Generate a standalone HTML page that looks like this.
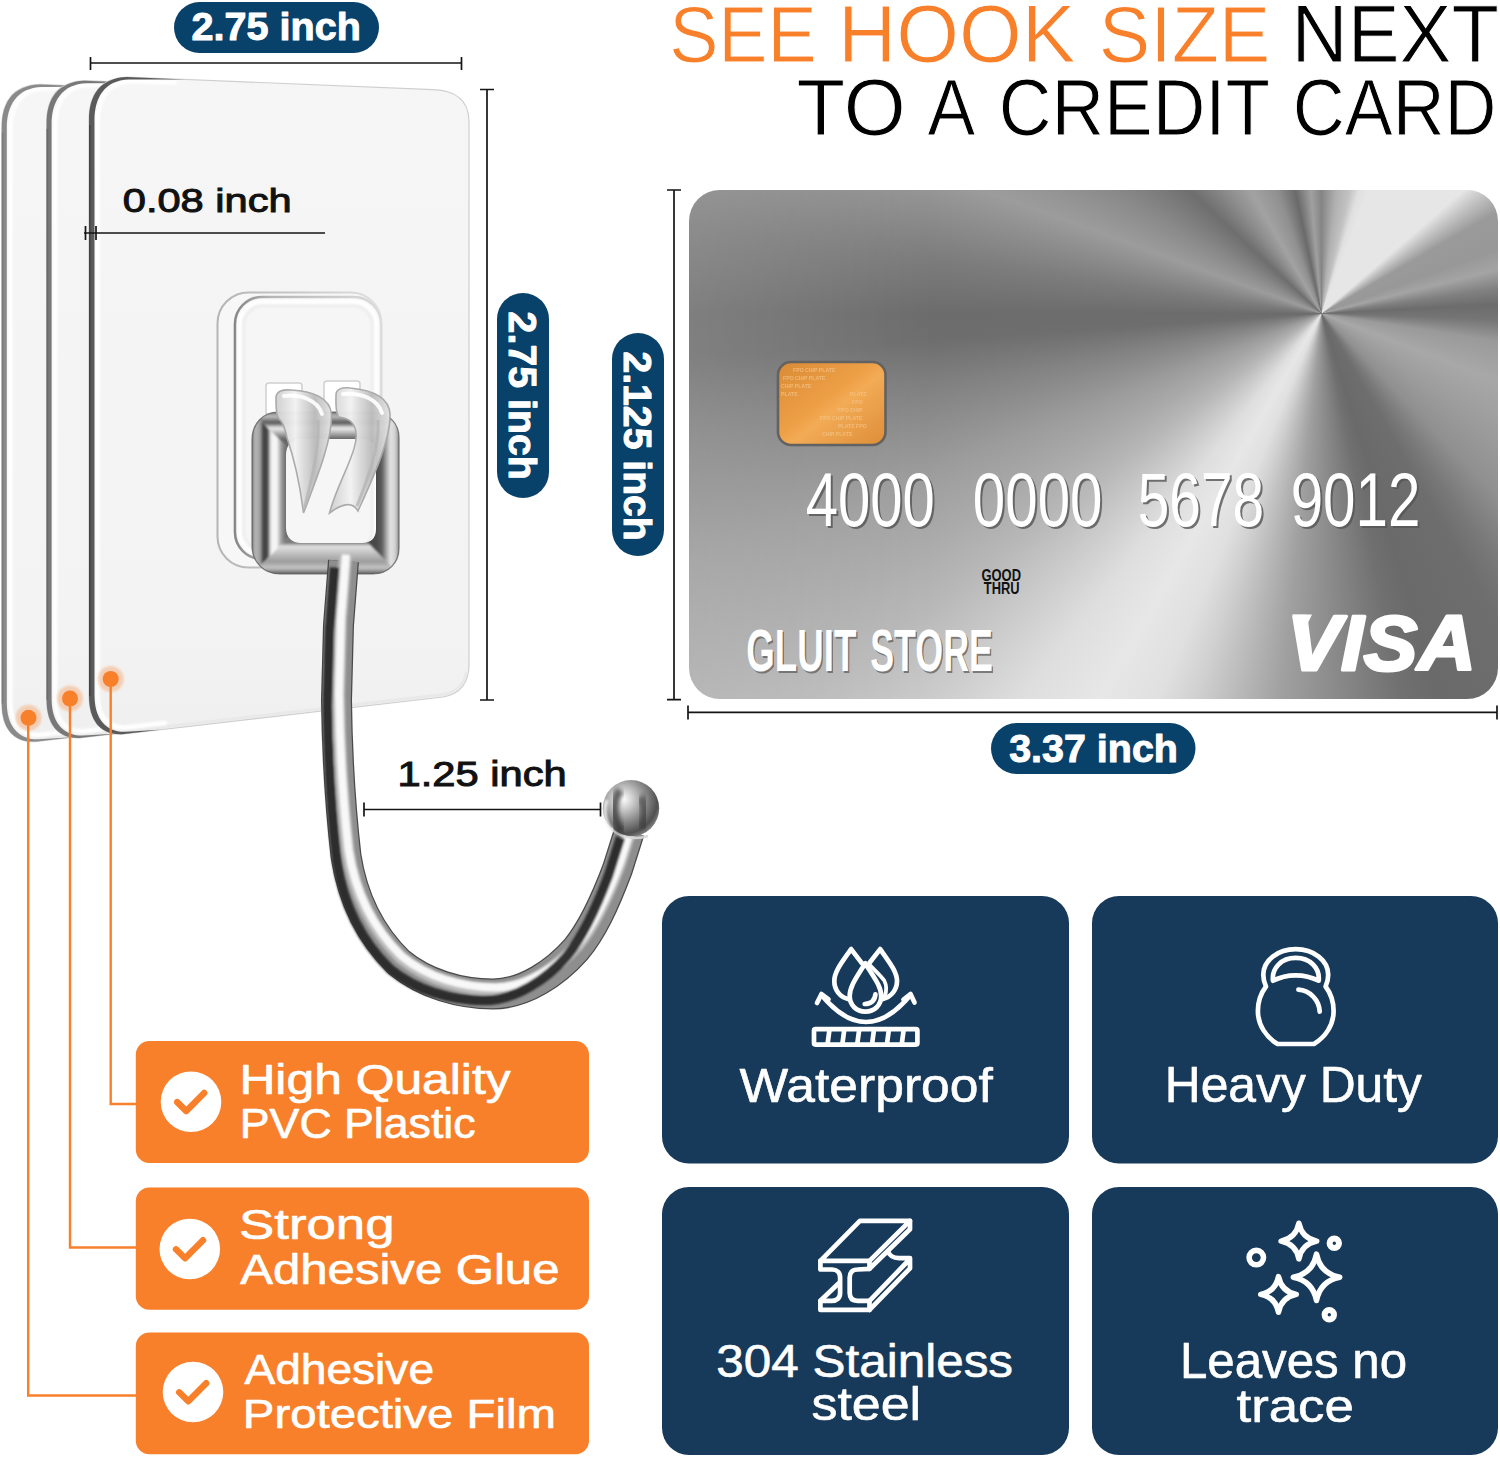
<!DOCTYPE html>
<html lang="en">
<head>
<meta charset="utf-8">
<title>See hook size next to a credit card</title>
<style>
html,body{margin:0;padding:0;background:#fff;}
body{width:1500px;height:1458px;position:relative;overflow:hidden;font-family:"Liberation Sans",sans-serif;}
#card{position:absolute;left:689px;top:190px;width:809px;height:509.4px;border-radius:31px;
background:linear-gradient(90deg, rgba(255,255,255,0.13) 0%, rgba(255,255,255,0) 30%), conic-gradient(from 0deg at 632.5px 123.5px, #858585 0deg, #b0b0b0 7deg, #c2c2c2 13deg, #e0e0e0 17deg, #e6e6e6 21deg, #e6e6e6 49deg, #c2c2c2 54deg, #9a9a9a 60deg, #989898 70deg, #a4a4a4 76deg, #808080 82deg, #6c6c6c 87deg, #757575 92deg, #9a9a9a 99deg, #a8a8a8 111deg, #9c9c9c 125deg, #909090 136deg, #787878 145deg, #6e6e6e 150deg, #6a6a6a 163deg, #707070 168deg, #808080 174deg, #909090 180deg, #a0a0a0 186deg, #b8b8b8 192deg, #d0d0d0 198deg, #e0e0e0 203deg, #e7e7e7 210deg, #dedede 218deg, #cacaca 226deg, #b8b8b8 233deg, #acacac 239deg, #9c9c9c 248deg, #828282 259deg, #6e6e6e 266deg, #6c6c6c 270deg, #7c7c7c 278deg, #9c9c9c 290deg, #8a8a8a 300deg, #6e6e6e 313deg, #8c8c8c 322deg, #a2a2a2 330deg, #909090 340deg, #6a6a6a 348deg, #a0a0a0 355deg, #858585 360deg);}
svg{position:absolute;left:0;top:0;}
text{font-family:"Liberation Sans",sans-serif;}
.b{font-weight:bold;}
</style>
</head>
<body>
<div id="card"></div>
<svg width="1500" height="1458" viewBox="0 0 1500 1458">
<defs>
<linearGradient id="gSheet" x1="0" y1="0" x2="0" y2="1">
<stop offset="0" stop-color="#f6f6f6"/><stop offset="0.5" stop-color="#f4f4f4"/><stop offset="0.86" stop-color="#f3f3f3"/><stop offset="1" stop-color="#efefef"/>
</linearGradient>
<radialGradient id="gBall" cx="0.36" cy="0.34" r="0.72">
<stop offset="0" stop-color="#ffffff"/><stop offset="0.22" stop-color="#d2d2d2"/><stop offset="0.55" stop-color="#8c8c8c"/><stop offset="0.85" stop-color="#505050"/><stop offset="1" stop-color="#858585"/>
</radialGradient>
<linearGradient id="gClip" x1="0" y1="0" x2="1" y2="0">
<stop offset="0" stop-color="#cfcfcf"/><stop offset="0.35" stop-color="#f2f2f2"/><stop offset="0.7" stop-color="#bdbdbd"/><stop offset="1" stop-color="#e4e4e4"/>
</linearGradient>
<linearGradient id="gLL" gradientUnits="userSpaceOnUse" x1="252" y1="0" x2="286" y2="0"><stop offset="0" stop-color="#6a6a6a"/><stop offset="0.08" stop-color="#b8b8b8"/><stop offset="0.24" stop-color="#a0a0a0"/><stop offset="0.33" stop-color="#404040"/><stop offset="0.46" stop-color="#4a4a4a"/><stop offset="0.56" stop-color="#f0f0f0"/><stop offset="0.72" stop-color="#f8f8f8"/><stop offset="0.86" stop-color="#a0a0a0"/><stop offset="1" stop-color="#6a6a6a"/></linearGradient>
<linearGradient id="gLB" gradientUnits="userSpaceOnUse" x1="0" y1="543" x2="0" y2="574"><stop offset="0" stop-color="#7a7a7a"/><stop offset="0.1" stop-color="#e2e2e2"/><stop offset="0.35" stop-color="#bfbfbf"/><stop offset="0.6" stop-color="#9c9c9c"/><stop offset="0.8" stop-color="#c4c4c4"/><stop offset="0.92" stop-color="#8a8a8a"/><stop offset="1" stop-color="#555"/></linearGradient>
<linearGradient id="gLR" gradientUnits="userSpaceOnUse" x1="376" y1="0" x2="399" y2="0"><stop offset="0" stop-color="#4a4a4a"/><stop offset="0.25" stop-color="#5a5a5a"/><stop offset="0.42" stop-color="#9a9a9a"/><stop offset="0.62" stop-color="#e4e4e4"/><stop offset="0.85" stop-color="#cfcfcf"/><stop offset="1" stop-color="#858585"/></linearGradient>
<linearGradient id="gLT" gradientUnits="userSpaceOnUse" x1="0" y1="412" x2="0" y2="439"><stop offset="0" stop-color="#666"/><stop offset="0.15" stop-color="#c2c2c2"/><stop offset="0.4" stop-color="#555"/><stop offset="0.6" stop-color="#eee"/><stop offset="0.85" stop-color="#999"/><stop offset="1" stop-color="#666"/></linearGradient>
<filter id="bj" filterUnits="userSpaceOnUse" x="280" y="520" width="420" height="520"><feGaussianBlur stdDeviation="0.8"/></filter>
<filter id="b1" x="-20%" y="-20%" width="140%" height="140%"><feGaussianBlur stdDeviation="1"/></filter>
<filter id="b2" x="-20%" y="-20%" width="140%" height="140%"><feGaussianBlur stdDeviation="2.2"/></filter>
</defs>
<!--TITLE-->
<g id="title">
<text x="669.15" y="62.1" font-size="80" textLength="147.58" lengthAdjust="spacingAndGlyphs" fill="#f9802b" stroke="#fff" stroke-width="1">SEE</text>
<text x="838.05" y="62.1" font-size="81.14" textLength="237.52" lengthAdjust="spacingAndGlyphs" fill="#f9802b" stroke="#fff" stroke-width="1">HOOK</text>
<text x="1098.81" y="62.1" font-size="80" textLength="171.54" lengthAdjust="spacingAndGlyphs" fill="#f9802b" stroke="#fff" stroke-width="1">SIZE</text>
<text x="1291.58" y="62.1" font-size="81.16" textLength="207.34" lengthAdjust="spacingAndGlyphs" fill="#000" stroke="#fff" stroke-width="1">NEXT</text>
<text x="796.51" y="135.4" font-size="80.43" textLength="109.2" lengthAdjust="spacingAndGlyphs" fill="#000" stroke="#fff" stroke-width="1">TO</text>
<text x="927.5" y="135.4" font-size="80.43" textLength="47.78" lengthAdjust="spacingAndGlyphs" fill="#000" stroke="#fff" stroke-width="1">A</text>
<text x="998.86" y="135.4" font-size="80.43" textLength="271.16" lengthAdjust="spacingAndGlyphs" fill="#000" stroke="#fff" stroke-width="1">CREDIT</text>
<text x="1292.81" y="135.4" font-size="80.43" textLength="203.73" lengthAdjust="spacingAndGlyphs" fill="#000" stroke="#fff" stroke-width="1">CARD</text>
</g>
<!--SHEETS-->
<g id="sheets">
<path d="M1.8 127.4C1.8 102.4 12.8 85.4 39.8 84.4L345.8 97.1C367.8 98.0 381.3 106.4 381.8 128.4L381.8 671.4C381.8 690.4 372.8 701.4 355.8 704.4L36.8 741.4C13.8 743.4 1.8 728.4 1.8 703.4Z" fill="url(#gSheet)" stroke="#cfcfcf" stroke-width="1.2"/>
<path d="M36.8 738.9L355.8 701.9C368.8 699.9 376.8 693.4 379.3 679.4" fill="none" stroke="#e9e9e9" stroke-width="3"/>
<path d="M87.8 89.9L43.8 88.4C20.8 89.4 10.3 105.4 10.3 129.4L10.3 701.4C10.3 722.4 18.8 735.9 38.8 734.9L77.8 730.4" fill="none" stroke="#fff" stroke-width="4.5" stroke-linecap="round" filter="url(#b1)"/>
<path d="M97.8 86.8L39.8 84.4C12.8 85.4 1.8 102.4 1.8 127.4L1.8 703.4C1.8 728.4 13.8 743.4 36.8 741.4L72.8 737.2L38.8 739.2C17.8 739.9 6.8 725.4 6.8 702.4L6.8 128.4C6.8 105.4 16.8 87.9 41.8 87.0Z" fill="#8a8a8a"/>
<path d="M2.6 132.4V703.4" stroke="#7c7c7c" stroke-width="1.6" fill="none"/>
<path d="M46.6 123.7C46.6 98.7 57.6 81.7 84.6 80.7L390.6 93.4C412.6 94.3 426.1 102.7 426.6 124.7L426.6 667.7C426.6 686.7 417.6 697.7 400.6 700.7L81.6 737.7C58.6 739.7 46.6 724.7 46.6 699.7Z" fill="url(#gSheet)" stroke="#cfcfcf" stroke-width="1.2"/>
<path d="M81.6 735.2L400.6 698.2C413.6 696.2 421.6 689.7 424.1 675.7" fill="none" stroke="#e9e9e9" stroke-width="3"/>
<path d="M132.6 86.2L88.6 84.7C65.6 85.7 55.1 101.7 55.1 125.7L55.1 697.7C55.1 718.7 63.6 732.2 83.6 731.2L122.6 726.7" fill="none" stroke="#fff" stroke-width="4.5" stroke-linecap="round" filter="url(#b1)"/>
<path d="M142.6 83.1L84.6 80.7C57.6 81.7 46.6 98.7 46.6 123.7L46.6 699.7C46.6 724.7 58.6 739.7 81.6 737.7L117.6 733.5L83.6 735.5C62.6 736.2 51.6 721.7 51.6 698.7L51.6 124.7C51.6 101.7 61.6 84.2 86.6 83.3Z" fill="#787878"/>
<path d="M47.4 128.7V699.7" stroke="#6a6a6a" stroke-width="1.6" fill="none"/>
<path d="M89.0 120.0C89.0 95.0 100.0 78.0 127.0 77.0L433.0 89.7C455.0 90.6 468.5 99.0 469.0 121.0L469.0 664.0C469.0 683.0 460.0 694.0 443.0 697.0L124.0 734.0C101.0 736.0 89.0 721.0 89.0 696.0Z" fill="url(#gSheet)" stroke="#cfcfcf" stroke-width="1.2"/>
<path d="M124.0 731.5L443.0 694.5C456.0 692.5 464.0 686.0 466.5 672.0" fill="none" stroke="#e9e9e9" stroke-width="3"/>
<path d="M175.0 82.5L131.0 81.0C108.0 82.0 97.5 98.0 97.5 122.0L97.5 694.0C97.5 715.0 106.0 728.5 126.0 727.5L165.0 723.0" fill="none" stroke="#fff" stroke-width="4.5" stroke-linecap="round" filter="url(#b1)"/>
<path d="M185.0 79.4L127.0 77.0C100.0 78.0 89.0 95.0 89.0 120.0L89.0 696.0C89.0 721.0 101.0 736.0 124.0 734.0L160.0 729.8L126.0 731.8C105.0 732.5 94.5 718.0 94.5 695.0L94.5 121.0C94.5 98.0 104.0 80.5 129.0 79.6Z" fill="#5a5a5a"/>
<path d="M89.8 125.0V696.0" stroke="#444" stroke-width="1.6" fill="none"/>
</g>
<!--HOOK-->
<g id="hook">
<linearGradient id="gPadO" gradientUnits="userSpaceOnUse" x1="216" y1="0" x2="382" y2="0"><stop offset="0" stop-color="#b4b4b4"/><stop offset="0.5" stop-color="#c8c8c8"/><stop offset="1" stop-color="#e2e2e2"/></linearGradient>
<linearGradient id="gPadI" gradientUnits="userSpaceOnUse" x1="234" y1="0" x2="382" y2="0"><stop offset="0" stop-color="#858585"/><stop offset="0.25" stop-color="#b4b4b4"/><stop offset="1" stop-color="#dcdcdc"/></linearGradient>
<rect x="217.5" y="292.5" width="164" height="275" rx="31" fill="#f7f7f7" stroke="url(#gPadO)" stroke-width="2"/>
<path d="M224 330V535" stroke="#dedede" stroke-width="8" filter="url(#b2)"/>
<rect x="235" y="297" width="146" height="262" rx="27" fill="#f6f6f6" stroke="url(#gPadI)" stroke-width="2.6"/>
<rect x="239.5" y="301.5" width="137" height="253" rx="23" fill="none" stroke="#ffffff" stroke-width="4" filter="url(#b1)"/>
<rect x="244" y="306" width="128" height="244" rx="19" fill="none" stroke="#ebebeb" stroke-width="2" filter="url(#b1)"/>
<rect x="266" y="383" width="36" height="32" rx="3" fill="#fff" stroke="#cfcfcf" stroke-width="1.5"/>
<rect x="324" y="381" width="36" height="32" rx="3" fill="#fff" stroke="#cfcfcf" stroke-width="1.5"/>
<clipPath id="cpLoop"><path d="M278 412H373C388 412 399 423 399 438V548C399 563 388 574 373 574H280C263 574 252 561 252 546V440C252 424 263 412 278 412ZM302 439C292 439 286 445 286 455V528C286 537 292 543 301 543H362C371 543 376 538 376 529V453C376 444 371 439 362 439Z" clip-rule="evenodd"/></clipPath>
<g clip-path="url(#cpLoop)"><g filter="url(#b1)">
<path d="M230 390L320 480V506L230 596Z" fill="url(#gLL)"/>
<path d="M230 596H421L342 517L320 506Z" fill="url(#gLB)"/>
<path d="M421 390L342 469V517L421 596Z" fill="url(#gLR)"/>
<path d="M230 390H421L342 469L320 480Z" fill="url(#gLT)"/>
</g></g>
<path d="M278 412H373C388 412 399 423 399 438V548C399 563 388 574 373 574H280C263 574 252 561 252 546V440C252 424 263 412 278 412Z" fill="none" stroke="#5c5c5c" stroke-width="1.2" opacity="0.8"/>
<path d="M343.5 561L338.5 625L336.5 700C337 740 338.5 790 346 856C352 895 368 932 399 962.5C425 984 460 994 493 994C525 994 556 972 576 949.5C592 930 604 905 617.5 869L629.5 831" fill="none" stroke="#4a4a4a" stroke-width="31" stroke-linecap="butt" stroke-linejoin="round"/>
<path d="M343.5 561L338.5 625L336.5 700C337 740 338.5 790 346 856C352 895 368 932 399 962.5C425 984 460 994 493 994C525 994 556 972 576 949.5C592 930 604 905 617.5 869L629.5 831" fill="none" stroke="#8e8e8e" stroke-width="28.5" stroke-linecap="butt" stroke-linejoin="round"/>
<g filter="url(#bj)"><path d="M343.5 561L338.5 625L336.5 700C337 740 338.5 790 346 856C352 895 368 932 399 962.5C425 984 460 994 493 994C525 994 556 972 576 949.5C592 930 604 905 617.5 869L629.5 831" fill="none" stroke="#bcbcbc" stroke-width="13" stroke-linecap="butt" stroke-linejoin="round" transform="translate(2 -5)"/>
<path d="M343.5 561L338.5 625L336.5 700C337 740 338.5 790 346 856C352 895 368 932 399 962.5C425 984 460 994 493 994C525 994 556 972 576 949.5C592 930 604 905 617.5 869L629.5 831" fill="none" stroke="#f8f8f8" stroke-width="8" stroke-linecap="butt" stroke-linejoin="round" transform="translate(2.5 -6.5)"/>
<path d="M343.5 561L338.5 625L336.5 700C337 740 338.5 790 346 856C352 895 368 932 399 962.5C425 984 460 994 493 994C525 994 556 972 576 949.5C592 930 604 905 617.5 869L629.5 831" fill="none" stroke="#262626" stroke-width="9.5" stroke-linecap="butt" stroke-linejoin="round" transform="translate(-9 6.5)" opacity="0.95"/></g>

<circle cx="631" cy="808.3" r="28.2" fill="url(#gBall)"/>
<path d="M611 828C617 836 634 841 648 836" stroke="#d8d8d8" stroke-width="2.5" fill="none" opacity="0.9"/>
<path d="M620 790C612 802 613 820 622 832" stroke="#2a2a2a" stroke-width="8" fill="none" opacity="0.7" filter="url(#b2)"/>
<path d="M640 797C646 806 646 818 641 828" stroke="#303030" stroke-width="9" fill="none" opacity="0.55" filter="url(#b2)"/>
<path d="M607 800C603 810 605 822 612 830" stroke="#f2f2f2" stroke-width="3.5" fill="none" opacity="0.85" filter="url(#b1)"/>
<path d="M276 398C276 391 282 389.5 291 390C313 391 330 398 331.5 414C332.5 440 316 480 303.5 513C300 485 293 455 287 438C285 428 283 422 279 419C275.5 415 276 405 276 398Z" fill="url(#gClip)" stroke="#a9a9a9" stroke-width="1.6" opacity="0.97"/>
<path d="M336 395C336 389 342 387 350 388C372 390 389 397 390 414C391 440 372 480 358 511C352 500 340 505 329.5 513C338 480 362 446 355 428C352 420 346 418 339 417C335 413 336 403 336 395Z" fill="url(#gClip)" stroke="#a9a9a9" stroke-width="1.6" opacity="0.97"/>
<path d="M284 396C300 394 318 400 322 414" stroke="#fff" stroke-width="4" fill="none" stroke-linecap="round" opacity="0.9"/>
<path d="M343 394C360 392 378 399 382 413" stroke="#fff" stroke-width="4" fill="none" stroke-linecap="round" opacity="0.9"/>
<path d="M318 420C320 450 310 485 304.5 508" stroke="#b5b5b5" stroke-width="3" fill="none" opacity="0.8"/>
<path d="M378 420C380 450 365 485 357 506" stroke="#b5b5b5" stroke-width="3" fill="none" opacity="0.8"/>
</g>
<!--DIMS-->
<g id="dims">
<g stroke="#151515" stroke-width="1.7" fill="none">
<path d="M90.5 63H461.5M90.5 57V70M461.5 57V70"/>
<path d="M487 89.5V700M480 89.5H494M480 700H494"/>
<path d="M84 233H325M85.5 226V240M96 226V240"/>
<path d="M364 809.5H600.5M364 802.5V816.5M600.5 802.5V816.5"/>
<path d="M674 190V699.6M667 190H681M667 699.6H681"/>
<path d="M688 712.4H1497M688 705.4V719.4M1497 705.4V719.4"/>
</g>
<rect x="174" y="2" width="205" height="51" rx="25.5" fill="#08426a"/>
<text x="191.61" y="40" font-size="38.36" font-weight="bold" textLength="169.19" lengthAdjust="spacingAndGlyphs" fill="#fff" stroke="#fff" stroke-width="1" stroke-linejoin="round">2.75 inch</text>
<rect x="991" y="723" width="204.5" height="51" rx="25.5" fill="#08426a"/>
<text x="1009.21" y="762.2" font-size="38.77" font-weight="bold" textLength="168.69" lengthAdjust="spacingAndGlyphs" fill="#fff" stroke="#fff" stroke-width="1" stroke-linejoin="round">3.37 inch</text>
<rect x="497" y="293" width="52" height="205" rx="26" fill="#08426a"/>
<text x="311.62" y="0" font-size="39.04" font-weight="bold" textLength="168.17" lengthAdjust="spacingAndGlyphs" fill="#fff" stroke="#fff" stroke-width="1" stroke-linejoin="round" transform="translate(509 0) rotate(90)">2.75 inch</text>
<rect x="612" y="333" width="52" height="223" rx="26" fill="#08426a"/>
<text x="351.43" y="0" font-size="39.04" font-weight="bold" textLength="189.36" lengthAdjust="spacingAndGlyphs" fill="#fff" stroke="#fff" stroke-width="1" stroke-linejoin="round" transform="translate(624 0) rotate(90)">2.125 inch</text>
<text x="122.75" y="212.3" font-size="33.84" textLength="168.88" lengthAdjust="spacingAndGlyphs" fill="#111" stroke="#111" stroke-width="1">0.08 inch</text>
<text x="397.58" y="785.8" font-size="34.79" textLength="169.05" lengthAdjust="spacingAndGlyphs" fill="#111" stroke="#111" stroke-width="1">1.25 inch</text>
</g>
<!--CARDTEXT-->
<g id="cardtext">
<linearGradient id="gChip" x1="0" y1="0" x2="1" y2="1"><stop offset="0" stop-color="#d98a35"/><stop offset="0.45" stop-color="#eea047"/><stop offset="0.55" stop-color="#f3ab55"/><stop offset="1" stop-color="#dd8d38"/></linearGradient>
<rect x="778" y="362" width="107.5" height="83" rx="13" fill="url(#gChip)" stroke="#626262" stroke-width="2.6"/>
<g font-size="5.200" fill="#f6c88e" class="b" opacity="0.7">
<text x="793" y="372">FPO CHIP PLATE</text><text x="783" y="380">FPO CHIP PLATE</text><text x="781" y="388">CHIP PLATE</text>
<text x="781" y="396">PLATE</text><text x="850" y="396">PLATE</text><text x="852" y="404">FPO</text><text x="838" y="412">FPO CHIP</text>
<text x="820" y="420">FPO CHIP PLATE</text><text x="838" y="428">PLATE FPO</text><text x="822" y="436">CHIP PLATE</text>
</g>
<g>
<g fill="#555" opacity="0.8" transform="translate(2 2)">
<text x="805.74" y="526.2" font-size="75.71" textLength="129.06" lengthAdjust="spacingAndGlyphs" >4000</text>
<text x="972.85" y="526.2" font-size="75.71" textLength="129.66" lengthAdjust="spacingAndGlyphs" >0000</text>
<text x="1137.73" y="526.2" font-size="75.71" textLength="126.32" lengthAdjust="spacingAndGlyphs" >5678</text>
<text x="1290.67" y="526.2" font-size="75.71" textLength="129.72" lengthAdjust="spacingAndGlyphs" >9012</text>
</g>
<g fill="#fff">
<text x="805.74" y="526.2" font-size="75.71" textLength="129.06" lengthAdjust="spacingAndGlyphs" >4000</text>
<text x="972.85" y="526.2" font-size="75.71" textLength="129.66" lengthAdjust="spacingAndGlyphs" >0000</text>
<text x="1137.73" y="526.2" font-size="75.71" textLength="126.32" lengthAdjust="spacingAndGlyphs" >5678</text>
<text x="1290.67" y="526.2" font-size="75.71" textLength="129.72" lengthAdjust="spacingAndGlyphs" >9012</text>
</g>
</g>
<g fill="#111">
<text x="981.48" y="580.8" font-size="15.86" font-weight="bold" textLength="39.53" lengthAdjust="spacingAndGlyphs" >GOOD</text>
<text x="983.87" y="594.4" font-size="15.86" font-weight="bold" textLength="35.8" lengthAdjust="spacingAndGlyphs" >THRU</text>
</g>
<g>
<g fill="#666" opacity="0.8" transform="translate(1.5 2)">
<text x="746.33" y="670.9" font-size="59.29" font-weight="bold" textLength="110" lengthAdjust="spacingAndGlyphs" >GLUIT</text>
<text x="870.28" y="670.9" font-size="59.29" font-weight="bold" textLength="122.54" lengthAdjust="spacingAndGlyphs" >STORE</text>
</g>
<g fill="#fff">
<text x="746.33" y="670.9" font-size="59.29" font-weight="bold" textLength="110" lengthAdjust="spacingAndGlyphs" >GLUIT</text>
<text x="870.28" y="670.9" font-size="59.29" font-weight="bold" textLength="122.54" lengthAdjust="spacingAndGlyphs" >STORE</text>
</g>
</g>
<text x="1287.03" y="669.8" font-size="78.43" font-weight="bold" font-style="italic" textLength="188.81" lengthAdjust="spacingAndGlyphs" fill="#fff" stroke="#fff" stroke-width="3" stroke-linejoin="round">VISA</text>
<path d="M1291.5 614.5H1312L1306 627C1303 620 1298 616.5 1291.5 614.5Z" fill="#fff"/>
</g>
<!--ORANGE-->
<g id="orange">
<g stroke="#f9802b" stroke-width="2.4" fill="none">
<path d="M110.7 679V1104H137"/>
<path d="M70 698.5V1247.5H137"/>
<path d="M28.2 717.5V1395.5H137"/>
</g>
<g fill="#f9802b">
<circle cx="110.7" cy="679" r="13" opacity="0.3" filter="url(#b1)"/><circle cx="110.7" cy="679" r="8"/>
<circle cx="70" cy="698.5" r="13" opacity="0.3" filter="url(#b1)"/><circle cx="70" cy="698.5" r="8"/>
<circle cx="28.5" cy="717.8" r="13" opacity="0.3" filter="url(#b1)"/><circle cx="28.5" cy="717.8" r="8"/>
<rect x="135.8" y="1041" width="453.2" height="122" rx="13.5"/>
<rect x="135.8" y="1187.5" width="453.2" height="122.3" rx="13.5"/>
<rect x="135.8" y="1332.5" width="453.2" height="121.8" rx="13.5"/>
</g>
<g fill="#fff">
<circle cx="191" cy="1101.8" r="30.3"/><circle cx="189.8" cy="1249" r="30.3"/><circle cx="193" cy="1392" r="30.3"/>
</g>
<g stroke="#f9802b" stroke-width="6.4" fill="none" stroke-linecap="round" stroke-linejoin="round">
<path d="M177.2 1102.1L186.3 1111.1L204.2 1093.0"/>
<path d="M176.0 1249.3L185.1 1258.3L203.0 1240.2"/>
<path d="M179.2 1392.3L188.3 1401.3L206.2 1383.2"/>
</g>
<g fill="#fff" stroke="#fff" stroke-width="0.7" stroke-linejoin="round">
<text x="239.42" y="1094.2" font-size="41.64" textLength="271.28" lengthAdjust="spacingAndGlyphs" >High Quality</text>
<text x="239.83" y="1138.1" font-size="41.64" textLength="235.77" lengthAdjust="spacingAndGlyphs" >PVC Plastic</text>
<text x="239.09" y="1239.3" font-size="43.24" textLength="155.47" lengthAdjust="spacingAndGlyphs" >Strong</text>
<text x="240.3" y="1284.4" font-size="41.64" textLength="319.17" lengthAdjust="spacingAndGlyphs" >Adhesive Glue</text>
<text x="244.4" y="1383.6" font-size="42.05" textLength="189.67" lengthAdjust="spacingAndGlyphs" >Adhesive</text>
<text x="242.81" y="1428.1" font-size="40.82" textLength="313.17" lengthAdjust="spacingAndGlyphs" >Protective Film</text>
</g>
</g>
<!--BLUE-->
<g id="blue">
<g fill="#183a5a">
<rect x="662" y="896" width="407" height="267.5" rx="27"/>
<rect x="1092" y="896" width="406" height="267.5" rx="27"/>
<rect x="662" y="1187" width="407" height="268" rx="27"/>
<rect x="1092" y="1187" width="406" height="268" rx="27"/>
</g>
<g fill="#fff" stroke="#fff" stroke-width="0.6" stroke-linejoin="round">
<text x="739.5" y="1102.2" font-size="47.26" textLength="253.29" lengthAdjust="spacingAndGlyphs" >Waterproof</text>
<text x="1164.72" y="1102.2" font-size="50" textLength="257.28" lengthAdjust="spacingAndGlyphs" >Heavy Duty</text>
<text x="716.22" y="1376.6" font-size="46.44" textLength="296.87" lengthAdjust="spacingAndGlyphs" >304 Stainless</text>
<text x="811.46" y="1420.2" font-size="45.89" textLength="109.67" lengthAdjust="spacingAndGlyphs" >steel</text>
<text x="1179.96" y="1378.1" font-size="49.42" textLength="227.12" lengthAdjust="spacingAndGlyphs" >Leaves no</text>
<text x="1236.47" y="1422.2" font-size="46.77" textLength="117.44" lengthAdjust="spacingAndGlyphs" >trace</text>
</g>
</g>
<g id="icons" stroke="#fff" stroke-width="4.7" fill="none" stroke-linecap="round" stroke-linejoin="round">
<!-- water -->
<rect x="814" y="1029.2" width="103.4" height="15.4" rx="1.5"/>
<path d="M829.5 1029.5l-2 15M844.3 1029.5l-2 15M859.2 1029.5l-2 15M874 1029.5l-2 15M888.9 1029.5l-2 15M903.7 1029.5l-2 15"/>
<path d="M821.5 995Q866 1049 910.5 995"/>
<path d="M817 1003l4.5-9l7 5.3M903.5 999.5l7-5.5l4 8.5"/>
<path d="M865.2 963.2C857 977 849.7 986 849.7 996C849.7 1005 856.5 1011.7 865.3 1011.7C874.5 1011.7 881.2 1005 881.2 996C881.2 986 873.5 977 865.2 963.2Z"/>
<path d="M861.8 963.2L851.1 949.1C843 961 834.3 971 834.3 981C834.3 990 840 997 848 999"/>
<path d="M869.2 963.2L880.2 949.1C888 961 897 971 897 981C897 990 891 997 883 999"/>
<path d="M870.3 965.5C876 971.5 882 977 884.2 980.5C886.5 985 886.8 991 884.6 996.5" stroke-width="3.8"/>
<path d="M864.7 1004Q874.5 1003.5 875.4 994.4"/>
<!-- kettlebell -->
<path d="M1277.600 1044H1313.900C1325.500 1037 1333.600 1025 1333.600 1011C1333.600 1001.500 1330.500 993 1325.600 986.500C1327.300 983 1328.200 979 1328.200 974.800C1328.200 960.500 1313.700 949.200 1295.700 949.200C1277.700 949.200 1263.300 960.500 1263.300 974.800C1263.300 979 1264.200 983 1266 986.500C1261 993 1257.900 1001.500 1257.900 1011C1257.900 1025 1266 1037 1277.600 1044Z"/>
<path d="M1273 980.700C1271.500 968 1281.500 957.900 1295.700 957.900C1310 957.900 1320 968 1318.700 980.700C1312 977.300 1304 975.300 1295.700 975.300C1287.500 975.300 1279.500 977.300 1273 980.700Z"/>
<path d="M1298.400 989.700C1310 990.500 1319.200 1000 1319.700 1011.600"/>
<!-- beam -->
<path d="M820.400 1260.800L859.900 1220.800H910L869.500 1260.800Z"/>
<path d="M910 1220.800V1229.300L869.500 1268.800"/>
<path d="M820.400 1260.800V1269.500H832C837 1269.500 840.100 1272.500 840.100 1277.500V1293C840.100 1298 837 1300.800 832 1300.800H820.400V1309.900H869.500V1300.800H857.500C852.500 1300.800 849.700 1298 849.700 1293V1277.500C849.700 1272.500 852.500 1269.500 857.500 1269.500L869.500 1268.800V1260.800"/>
<path d="M820.400 1300.800L838.500 1283.500"/>
<path d="M869.500 1300.800L908.500 1260.500M869.500 1309.900L910 1268.300V1258.100H899C893 1258.100 889 1255 888.100 1251.200"/>
<!-- sparkles -->
<path d="M1298.9 1223.3Q1301.84 1238.16 1316.7 1241.1Q1301.84 1244.04 1298.9 1258.8999999999999Q1295.96 1244.04 1281.1000000000001 1241.1Q1295.96 1238.16 1298.9 1223.3Z" stroke-width="5.5"/>
<path d="M1316.5 1254.1Q1320.33 1273.47 1339.7 1277.3Q1320.33 1281.13 1316.5 1300.5Q1312.67 1281.13 1293.3 1277.3Q1312.67 1273.47 1316.5 1254.1Z" stroke-width="5.5"/>
<path d="M1278.5 1276.6000000000001Q1281.44 1291.46 1296.3 1294.4Q1281.44 1297.34 1278.5 1312.2Q1275.56 1297.34 1260.7 1294.4Q1275.56 1291.46 1278.5 1276.6000000000001Z" stroke-width="5.5"/>
<circle cx="1256.3" cy="1257.6" r="7.2" stroke-width="5.6"/>
<circle cx="1334.3" cy="1243.2" r="4.7" stroke-width="6"/>
<circle cx="1329.3" cy="1314.7" r="4.7" stroke-width="6"/>
</g>
</svg>
</body>
</html>
